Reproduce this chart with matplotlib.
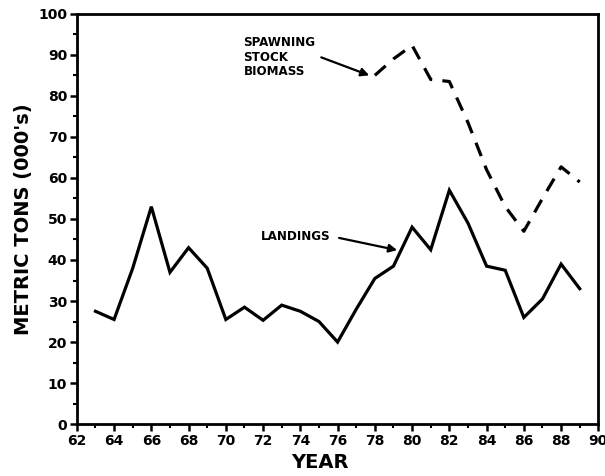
import matplotlib
matplotlib.use('Agg')
import matplotlib.pyplot as plt
from matplotlib.ticker import MultipleLocator

# Landings and spawning stock biomass, thousands of metric tons
landing_years = [63, 64, 65, 66, 67, 68, 69, 70, 71, 72, 73, 74, 75, 76,
                 77, 78, 79, 80, 81, 82, 83, 84, 85, 86, 87, 88, 89]
landings = [27.5, 25.5, 38, 53, 37, 43, 38, 25.5, 28.5, 25.3, 29, 27.5, 25, 20,
            28, 35.5, 38.5, 48, 42.5, 57, 49, 38.5, 37.5, 26, 30.5, 39, 33]

ssb_years = [78, 79, 80, 81, 82, 83, 84, 85, 86, 87, 88, 89]
ssb = [85, 89, 92.3, 84, 83.5, 73.5, 62, 53, 47, 55, 62.7, 59]

xticks = list(range(62, 91, 2))
yticks = list(range(0, 101, 10))

plt.rcParams['font.family'] = ['DejaVu Sans']
plt.rcParams['font.weight'] = 'bold'

fig = plt.figure(figsize=(6.05, 4.76), dpi=100)
ax = fig.add_axes([0.127, 0.109, 0.862, 0.862])

ax.plot(landing_years, landings, color='black', lw=2.3, solid_joinstyle='miter')
ax.plot(ssb_years, ssb, color='black', lw=2.3, dashes=(4.5, 3.2))

ax.set_xlim(62, 90)
ax.set_ylim(0, 100)
ax.set_xticks(xticks)
ax.set_yticks(yticks)
ax.xaxis.set_minor_locator(MultipleLocator(1))
ax.yaxis.set_minor_locator(MultipleLocator(5))
ax.tick_params(which='major', direction='out', length=5, width=1.8, labelsize=10, pad=2)
ax.tick_params(which='minor', direction='out', length=3, width=1.5)

for s in ax.spines.values():
    s.set_linewidth(2.0)

ax.set_xlabel('YEAR', fontsize=14, fontweight='bold')
ax.xaxis.set_label_coords(0.466, -0.071, transform=ax.transAxes)
ax.xaxis.label.set_va('top')
ax.set_ylabel("METRIC TONS (000's)", fontsize=14, fontweight='bold', labelpad=4)

ax.annotate('SPAWNING\nSTOCK\nBIOMASS', xy=(77.7, 85), xytext=(70.95, 94.5),
            fontsize=9.5, fontweight='bold', fontstretch='condensed',
            ha='left', va='top', linespacing=1.15,
            arrowprops=dict(arrowstyle='-|>', color='black', lw=1.6,
                            mutation_scale=12, shrinkA=0, shrinkB=0,
                            relpos=(1.08, 0.5)))
ax.annotate('LANDINGS', xy=(79.2, 42.4), xytext=(71.9, 45.8),
            fontsize=9.5, fontweight='bold', fontstretch='condensed',
            ha='left', va='center',
            arrowprops=dict(arrowstyle='-|>', color='black', lw=1.6,
                            mutation_scale=12, shrinkA=4, shrinkB=0,
                            relpos=(1.0, 0.5)))

fig.savefig('out.png', dpi=100)
